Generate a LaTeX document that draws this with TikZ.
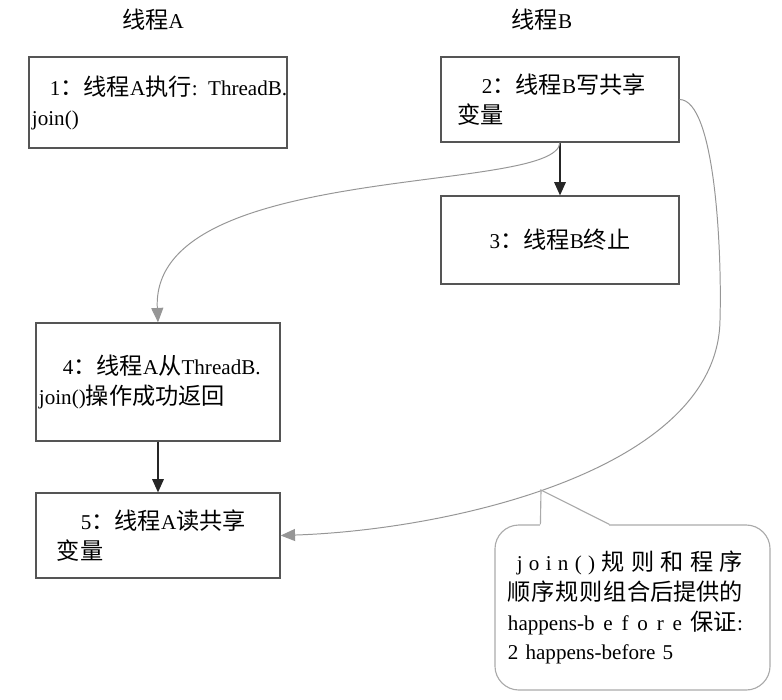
\documentclass[tikz,border=0pt]{standalone}
\usepackage{fontspec}
\setmainfont{Liberation Serif}
\newfontfamily\cjk[Scale=1.1]{Noto Sans CJK SC}
\newcommand{\zh}[1]{{\cjk #1}}
\usetikzlibrary{arrows.meta, positioning, calc}
\definecolor{cFrame}{RGB}{85,85,85}
\definecolor{cFlow}{RGB}{150,150,150}
\definecolor{cNote}{RGB}{170,170,170}
\tikzset{
	stepbox/.style   ={rectangle, draw=cFrame, line width=0.9pt, inner xsep=0.075cm, inner ysep=0pt, align=left},
	notebox/.style   ={rectangle, rounded corners=0.6cm, draw=cNote, line width=0.8pt, minimum width=6.875cm, minimum height=4.125cm, text width=6.225cm, inner xsep=0.325cm, align=left},
	orderarrow/.style={-{Triangle[length=3.3mm, width=2.9mm]}, line width=0.9pt, black!85},
	hbarrow/.style   ={-{Triangle[length=3.6mm, width=3mm]}, line width=0.7pt, cFlow},
}

\begin{document}
\begin{tikzpicture}[x=0.025cm, y=-0.025cm, font=\fontsize{15}{21.3}\selectfont]
	\useasboundingbox (0,0) rectangle (782,699);
	% thread headers
	\node (hA) at (153,20) {\zh{线程}A};
	\node (hB) at (542,20) {\zh{线程}B};
	% thread A
	\node[stepbox, text width=6.3cm, minimum height=2.275cm] (s1) at (158,102.5)
		{\mbox{\hspace*{0.45cm}1\zh{：线程}A\zh{执行}: ThreadB.}\\join()};
	\node[stepbox, text width=5.95cm, minimum height=2.95cm] (s4) at (158,382)
		{\mbox{\hspace*{0.6cm}4\zh{：线程}A\zh{从}ThreadB.}\\join()\zh{操作成功返回}};
	\node[stepbox, text width=5.95cm, minimum height=2.125cm] (s5) at (158,535.5)
		{\hspace*{1.05cm}5\zh{：线程}A\zh{读共享}\\\hspace*{0.45cm}\zh{变量}};
	% thread B
	\node[stepbox, text width=5.8cm, minimum height=2.125cm] (s2) at (560,99.5)
		{\hspace*{0.95cm}2\zh{：线程}B\zh{写共享}\\\hspace*{0.33cm}\zh{变量}};
	\node[stepbox, text width=5.8cm, minimum height=2.2cm, align=center] (s3) at (560,240)
		{3\zh{：线程}B\zh{终止}};
	% program order
	\draw[orderarrow] (s2) -- (s3);
	\draw[orderarrow] (s4) -- (s5);
	% happens-before edges
	\coordinate (bend) at (720,320);
	\draw[hbarrow] (s2.south) .. controls (556,195) and (150,160) .. (s4.north);
	\draw[hbarrow] (s2.east) .. controls (715,100) and (722,250) .. (bend)
		.. controls (718,470) and (450,530) .. (s5.east);
	% note
	\node[notebox] (note) at (632.5,607.5)
		{\hspace*{0.22cm}\makebox[5.65cm]{j\hfill o\hfill i\hfill n\hfill (\hfill)\hfill\zh{规}\hfill\zh{则}\hfill\zh{和}\hfill\zh{程}\hfill\zh{序}}\\
		 \makebox[5.875cm]{\zh{顺}\hfill\zh{序}\hfill\zh{规}\hfill\zh{则}\hfill\zh{组合后提供的}}\\
		 \makebox[5.875cm]{happens-b\hfill e\hfill f\hfill o\hfill r\hfill e\hfill\zh{保证}:}\\
		 2 happens-before 5};
	\coordinate (tip) at (541,490);
	\draw[white, line width=2pt] ($(note.north west)+(46,0)$) -- ($(note.north west)+(115,0)$);
	\draw[cNote, line width=0.8pt] ($(note.north west)+(46,0)$) -- (tip) -- ($(note.north west)+(115,0)$);
\end{tikzpicture}
\end{document}
